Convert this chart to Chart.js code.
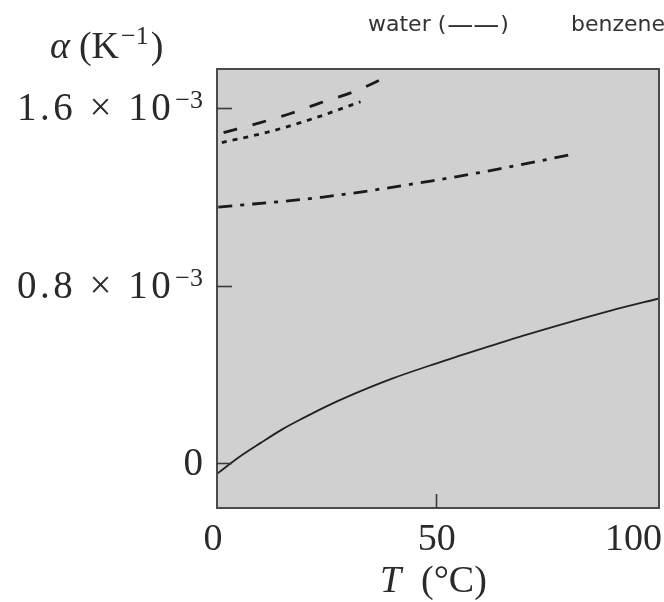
<!DOCTYPE html>
<html>
<head>
<meta charset="utf-8">
<script src="https://cdn.jsdelivr.net/npm/chart.js@4/dist/chart.umd.min.js"></script>
<style>
  html, body { margin: 0; padding: 0; background: #fff; }
  canvas { display: block; }
</style>
</head>
<body>
<canvas id="myChart" width="664" height="602"></canvas>
<script>
// alpha values are in units of 10^-3 K^-1
const waterT = [0, 5, 10, 15, 20, 25, 30, 40, 50, 60, 70, 80, 90, 101];
const waterAlpha = [-0.05, 0.025, 0.09, 0.152, 0.205, 0.255, 0.30, 0.38, 0.448, 0.512, 0.574, 0.632, 0.687, 0.742];

const dashedT = [1.5, 9.9, 16.8, 23.6, 31.2, 38.1];
const dashedAlpha = [1.491, 1.536, 1.577, 1.625, 1.675, 1.736];

const dottedT = [1.1, 11.8, 22.1, 32.8];
const dottedAlpha = [1.446, 1.494, 1.555, 1.63];

const dashDotT = [0.3, 24.3, 48.8, 64.8, 81.2];
const dashDotAlpha = [1.154, 1.200, 1.272, 1.328, 1.393];

const xTicks = [0, 50, 100];
const yTicks = [0, 0.8, 1.6];
const yTickLabels = [['0', ''], ['0.8 \u00d7 10', '\u22123'], ['1.6 \u00d7 10', '\u22123']];

const toPoints = (xs, ys) => xs.map((x, i) => ({ x: x, y: ys[i] }));

const SERIF = '"Liberation Serif", "DejaVu Serif", serif';

const decorPlugin = {
    id: 'decor',
    beforeDraw: (chart) => {
        const ctx = chart.ctx;
        const a = chart.chartArea;
        ctx.save();
        ctx.fillStyle = '#ffffff';
        ctx.fillRect(0, 0, chart.width, chart.height);
        ctx.fillStyle = '#d0d0d0';
        ctx.fillRect(a.left, a.top, a.right - a.left, a.bottom - a.top);
        ctx.restore();
    },
    afterDraw: (chart) => {
        const ctx = chart.ctx;
        const a = chart.chartArea;
        const xs = chart.scales.x;
        const ys = chart.scales.y;
        ctx.save();

        // frame
        ctx.strokeStyle = '#4a4a4a';
        ctx.lineWidth = 2;
        ctx.strokeRect(a.left, a.top, a.right - a.left, a.bottom - a.top);

        // inward ticks (the 0 and 100 ones sit on the frame)
        ctx.lineWidth = 1.6;
        ctx.strokeStyle = '#3a3a3a';
        yTicks.forEach(v => {
            const py = Math.round(ys.getPixelForValue(v)) + 0.5;
            ctx.beginPath();
            ctx.moveTo(a.left, py);
            ctx.lineTo(a.left + 15, py);
            ctx.stroke();
        });
        xTicks.filter(v => v > 0 && v < 100).forEach(v => {
            const px = Math.round(xs.getPixelForValue(v)) + 0.5;
            ctx.beginPath();
            ctx.moveTo(px, a.bottom);
            ctx.lineTo(px, a.bottom - 14);
            ctx.stroke();
        });

        ctx.fillStyle = '#2a2a2a';
        ctx.textBaseline = 'alphabetic';

        // y tick labels
        yTicks.forEach((v, i) => {
            const py = ys.getPixelForValue(v);
            const [main, sup] = yTickLabels[i];
            let right = 203;
            ctx.textAlign = 'right';
            if (sup) {
                ctx.letterSpacing = '0px';
                ctx.font = '26px ' + SERIF;
                ctx.fillText(sup, right, py);
                right -= ctx.measureText(sup).width + 1;
                ctx.letterSpacing = '3.5px';
            }
            ctx.font = '39px ' + SERIF;
            ctx.fillText(main, right, py + 12);
            ctx.letterSpacing = '0px';
        });

        // x tick labels
        ctx.font = '38px ' + SERIF;
        xTicks.forEach(v => {
            const px = xs.getPixelForValue(v);
            if (v === 0) {
                ctx.textAlign = 'center';
                ctx.fillText('0', px - 4, 550);
            } else if (v === 100) {
                ctx.textAlign = 'right';
                ctx.fillText('100', 662, 550);
            } else {
                ctx.textAlign = 'center';
                ctx.fillText(String(v), px + 1, 550);
            }
        });

        // x axis title: T (°C)
        ctx.textAlign = 'left';
        ctx.font = 'italic 38px ' + SERIF;
        ctx.fillText('T', 380, 592);
        ctx.font = '38px ' + SERIF;
        ctx.fillText('(\u00b0C)', 421, 592);

        // y axis title: α (K^-1)
        let lx = 50;
        ctx.font = 'italic 38px ' + SERIF;
        ctx.fillText('\u03b1', lx, 58);
        lx += ctx.measureText('\u03b1').width + 9;
        ctx.font = '38px ' + SERIF;
        ctx.fillText('(K', lx, 58);
        lx += ctx.measureText('(K').width + 2;
        ctx.font = '26px ' + SERIF;
        ctx.fillText('\u22121', lx, 44);
        lx += ctx.measureText('\u22121').width + 2;
        ctx.font = '38px ' + SERIF;
        ctx.fillText(')', lx, 58);

        // key text along the top
        ctx.fillStyle = '#333333';
        ctx.font = '22px "DejaVu Sans", sans-serif';
        ctx.fillText('water (', 368, 31);
        let kx = 368 + ctx.measureText('water (').width + 1;
        ctx.font = '26px "DejaVu Sans", sans-serif';
        ctx.fillText('\u2014\u2014', kx, 33);
        kx += ctx.measureText('\u2014\u2014').width + 1;
        ctx.font = '22px "DejaVu Sans", sans-serif';
        ctx.fillText(')', kx, 31);
        ctx.fillText('benzene (\u2013 \u2013 \u2013)', 571, 31);

        ctx.restore();
    }
};

const ctx = document.getElementById('myChart').getContext('2d');
const chart = new Chart(ctx, {
    type: 'line',
    data: {
        datasets: [
            {
                label: 'water',
                data: toPoints(waterT, waterAlpha),
                borderColor: '#222222',
                borderWidth: 1.8,
            },
            {
                label: 'dashed',
                data: toPoints(dashedT, dashedAlpha),
                borderColor: '#1a1a1a',
                borderWidth: 2.8,
                borderDash: [14, 16],
            },
            {
                label: 'dotted',
                data: toPoints(dottedT, dottedAlpha),
                borderColor: '#1a1a1a',
                borderWidth: 2.8,
                borderDash: [5, 6],
            },
            {
                label: 'dash-dot',
                data: toPoints(dashDotT, dashDotAlpha),
                borderColor: '#1a1a1a',
                borderWidth: 2.8,
                borderDash: [14, 8, 4, 8],
            },
        ],
    },
    options: {
        responsive: false,
        animation: false,
        devicePixelRatio: 1,
        layout: {
            padding: { left: 217, right: 5, top: 69, bottom: 94 },
        },
        elements: {
            point: { radius: 0 },
            line: { cubicInterpolationMode: 'monotone', fill: false },
        },
        scales: {
            x: { type: 'linear', min: 0, max: 101, display: false },
            y: { type: 'linear', min: -0.204, max: 1.778, display: false },
        },
        plugins: {
            legend: { display: false },
            tooltip: { enabled: false },
        },
    },
    plugins: [decorPlugin],
});
</script>
</body>
</html>
